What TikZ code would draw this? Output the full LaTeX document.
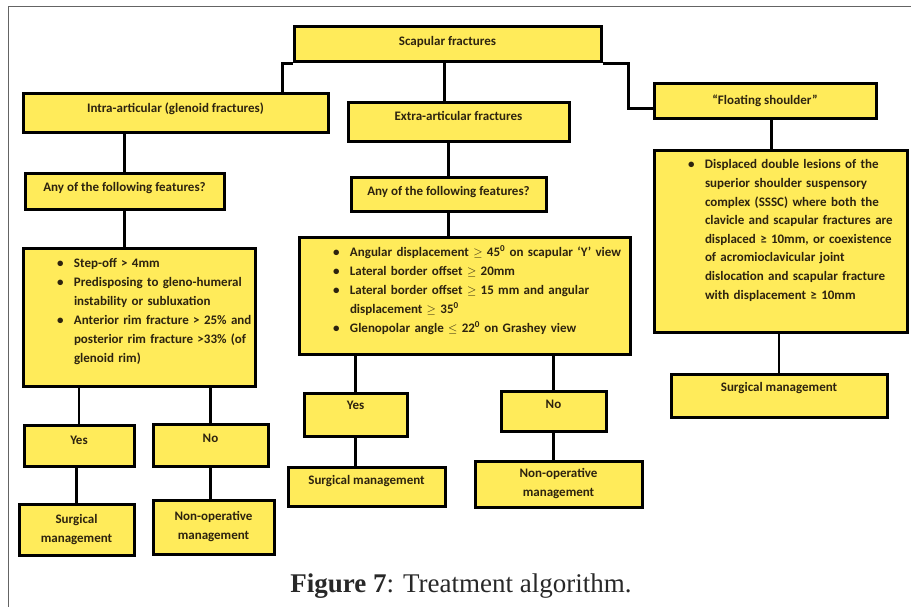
\documentclass[tikz,border=0pt]{standalone}
\usepackage{fontspec}
\setmainfont{Carlito}
\newfontfamily\capfont{Liberation Serif}
\usepackage{xcolor}
\usepackage{tikz}

\definecolor{boxyellow}{RGB}{255,235,90}
\definecolor{boxtext}{RGB}{45,35,15}
\definecolor{framegray}{RGB}{100,100,100}
\definecolor{captext}{RGB}{40,40,40}

\newcommand{\boxfont}{\fontsize{13}{19}\selectfont\bfseries}
\newcommand{\bitem}[1]{\mbox{\makebox[17pt][l]{\textbullet}#1}}
\newcommand{\bcont}[1]{\mbox{\hspace*{17pt}#1}}

\begin{document}
\begin{tikzpicture}[
    x=1pt, y=-1pt,
    yellowbox/.style={rectangle, draw=black, line width=3pt, fill=boxyellow, inner sep=0pt, font=\boxfont, text=boxtext},
    onebox/.style={yellowbox, text height=9pt, text depth=#1},
    onebox/.default=3pt,
    twobox/.style={yellowbox, align=center},
    listbox/.style={yellowbox, align=left},
    link/.style={line width=2.5pt, draw=black},
    frame/.style={line width=1pt, draw=framegray}
]
\useasboundingbox (0,0) rectangle (911,607);

% Frame
\draw[frame] (8,607) -- (8,7) -- (911,7);

% Top level
\node[onebox=6pt, minimum width=307pt, minimum height=35pt] (scap) at (447.5,44.5) {Scapular fractures};
\node[onebox=10pt, minimum width=305pt, minimum height=39pt] (intra) at (175.5,113.5) {Intra-articular (glenoid fractures)};
\node[onebox=12pt, minimum width=221pt, minimum height=39pt] (extra) at (458.5,122.5) {Extra-articular fractures};
\node[onebox, minimum width=222pt, minimum height=35pt] (float) at (765,101.5) {“Floating shoulder”};

% Intra-articular branch
\node[onebox=9pt, minimum width=199pt, minimum height=36pt] (any1) at (124.5,192) {Any of the following features?};
\node[listbox, minimum width=232pt, text width=164pt, text height=18.5pt, text depth=119.5pt] (list1) at (139,317.5) {%
\bitem{Step-off > 4mm}\\
\bitem{Predisposing to gleno-humeral}\\
\bcont{instability or subluxation}\\
\bitem{Anterior rim fracture > 25\% and}\\
\bcont{posterior rim fracture >33\% (of}\\
\bcont{glenoid rim)}};
\node[onebox=12pt, minimum width=110pt, minimum height=41pt] (yes1) at (79,445.5) {Yes};
\node[onebox=15pt, minimum width=115pt, minimum height=42pt] (no1) at (210.5,445) {No};
\node[twobox, minimum width=115pt, minimum height=51pt] (surg1) at (76.5,529.5) {Surgical\\management};
\node[twobox, minimum width=121pt, minimum height=54pt] (nonop1) at (213.5,527) {Non-operative\\management};

% Extra-articular branch
\node[onebox=7pt, minimum width=195pt, minimum height=34pt] (any2) at (448.5,195) {Any of the following features?};
\node[listbox, minimum width=331pt, text width=263pt, text height=18.5pt, text depth=98.5pt] (list2) at (464.5,296) {%
\bitem{Angular displacement $\geq$ 45\textsuperscript{0} on scapular ‘Y’ view}\\
\bitem{Lateral border offset $\geq$ 20mm}\\
\bitem{\makebox[268pt][s]{Lateral border offset $\geq$ 15 mm and angular}}\\
\bcont{displacement $\geq$ 35\textsuperscript{0}}\\
\bitem{Glenopolar angle $\leq$ 22\textsuperscript{0} on Grashey view}};
\node[onebox=20pt, minimum width=103pt, minimum height=43pt] (yes2) at (355.5,414.5) {Yes};
\node[onebox=15pt, minimum width=105pt, minimum height=40pt] (no2) at (553.5,411) {No};
\node[onebox=14pt, minimum width=157pt, minimum height=39pt] (surg2) at (366.5,486.5) {Surgical management};
\node[twobox, minimum width=167pt, minimum height=46pt] (nonop2) at (558.5,484) {Non-operative\\management};

% Floating shoulder branch
\node[listbox, font=\fontsize{13}{18.6}\selectfont\bfseries, minimum width=253pt, text width=185pt, text height=18.5pt, text depth=163.5pt] (sssc) at (780.5,241.5) {%
\bitem{Displaced double lesions of the}\\
\bcont{superior shoulder suspensory}\\
\bcont{complex (SSSC) where both the}\\
\bcont{clavicle and scapular fractures are}\\
\bcont{displaced ≥ 10mm, or coexistence}\\
\bcont{of acromioclavicular joint}\\
\bcont{dislocation and scapular fracture}\\
\bcont{with displacement ≥ 10mm}};
\node[onebox=18pt, minimum width=216pt, minimum height=43pt] (surg3) at (779,395.5) {Surgical management};

% Caption
\node[font=\capfont\fontsize{27}{31}\selectfont, text=captext] (caption) at (461,586) {\textbf{Figure 7}: Treatment algorithm.};

% Lines
\draw[link] (scap.south west) -| ([xshift=261pt]intra.north west);
\draw[link] ([xshift=98pt]extra.north west) -- ++(0,-41);
\draw[link] (scap.south east) -- ++(26,0) |- ([yshift=12pt]float.south west);
\draw[link] (any1.north |- intra.south) -- (any1.north);
\draw[link] (any1.south) -- (any1.south |- list1.north);
\draw[link] (yes1.north |- list1.south) -- (yes1.north);
\draw[link] (no1.north |- list1.south) -- (no1.north);
\draw[link] (surg1.north |- yes1.south) -- (surg1.north);
\draw[link] (no1.south) -- (no1.south |- nonop1.north);
\draw[link] (any2.north |- extra.south) -- (any2.north);
\draw[link] (any2.south) -- (any2.south |- list2.north);
\draw[link] (yes2.north |- list2.south) -- (yes2.north);
\draw[link] (no2.north |- list2.south) -- (no2.north);
\draw[link] (yes2.south) -- (yes2.south |- surg2.north);
\draw[link] (no2.south) -- (no2.south |- nonop2.north);
\draw[link] ([xshift=119pt]float.south west) -- ++(0,32);
\draw[link] (surg3.north |- sssc.south) -- (surg3.north);

\end{tikzpicture}
\end{document}
